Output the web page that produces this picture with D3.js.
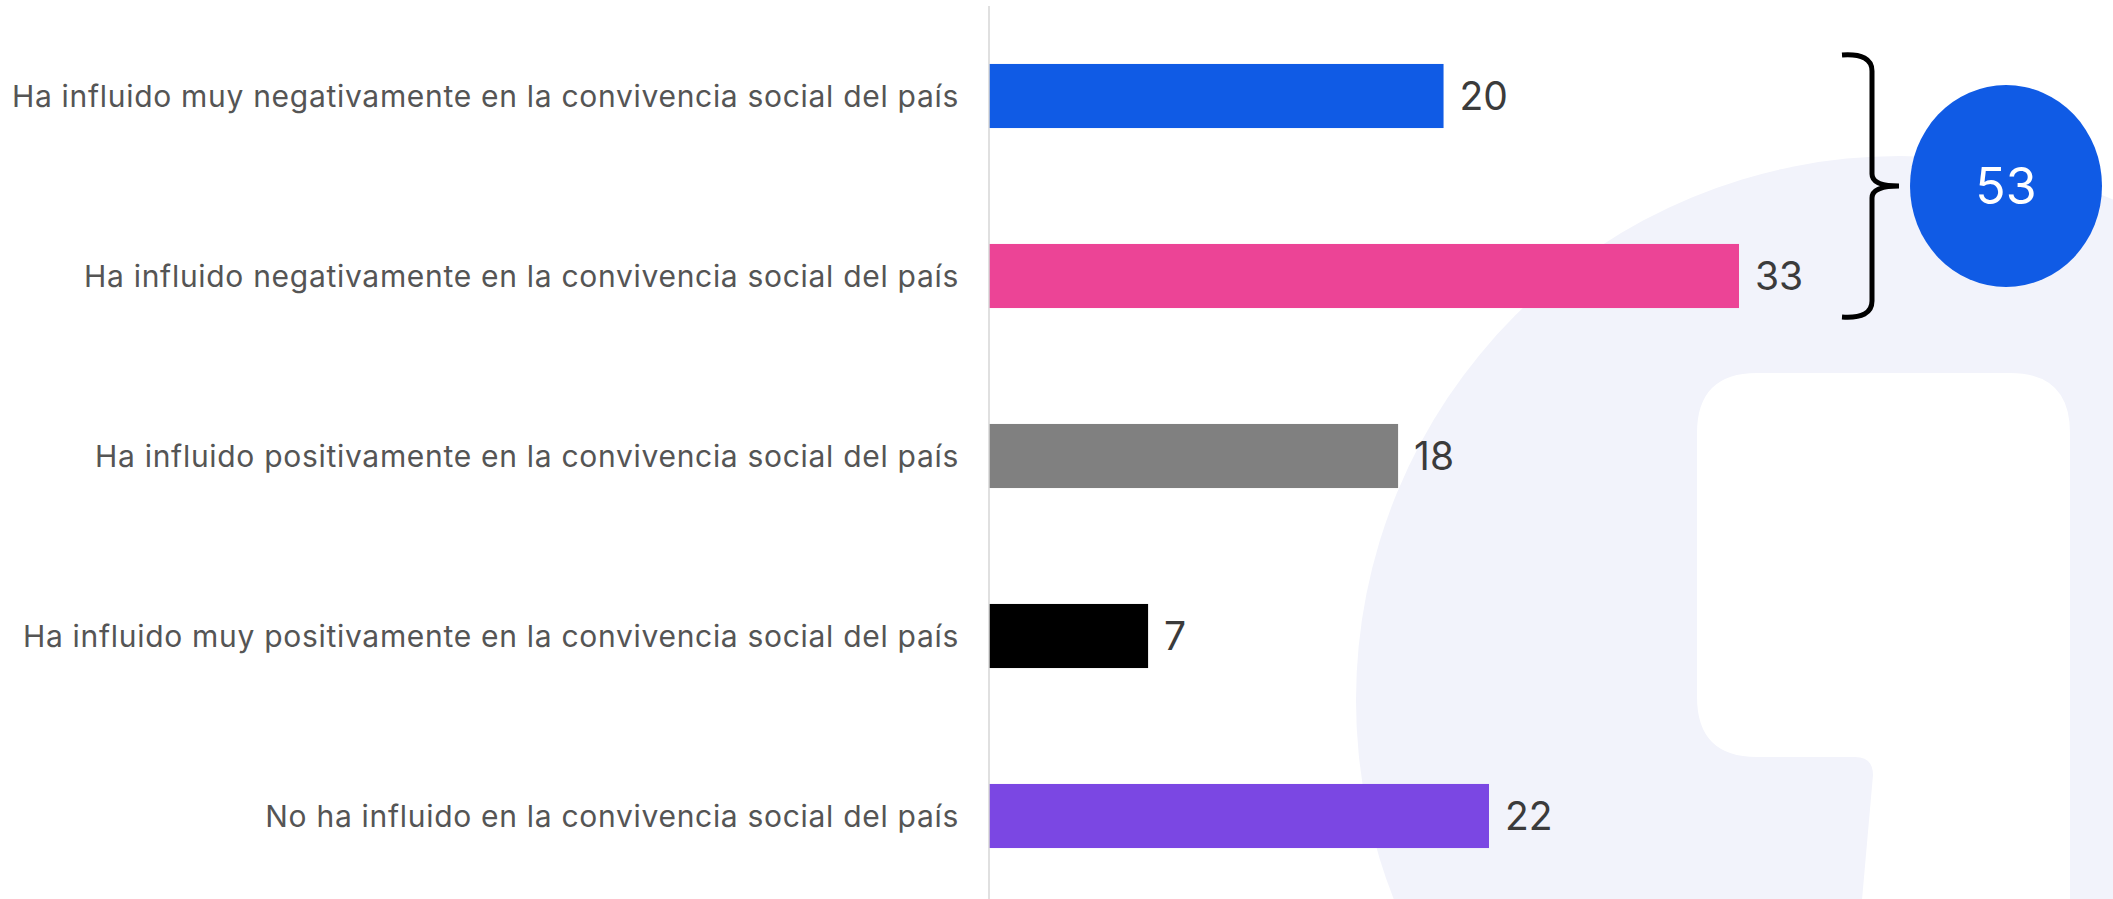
<!DOCTYPE html>
<html>
<head>
<meta charset="utf-8">
<script src="https://cdn.jsdelivr.net/npm/d3@7"></script>
<style>
  body { margin: 0; background: #fff; }
  svg { display: block; }
</style>
</head>
<body>
<div id="chart"></div>
<script>
// Data
const categories = [
    "Ha influido muy negativamente en la convivencia social del país",
    "Ha influido negativamente en la convivencia social del país",
    "Ha influido positivamente en la convivencia social del país",
    "Ha influido muy positivamente en la convivencia social del país",
    "No ha influido en la convivencia social del país"
];
const values = [20, 33, 18, 7, 22];
const barColors = ["#105be5", "#ec4496", "#808080", "#000000", "#7b47e3"];
const groupTotal = 53; // sum of the first two categories

const width = 2113, height = 899;
const font = "Inter, 'Noto Sans', sans-serif";

const svg = d3.select("#chart")
    .append("svg")
    .attr("width", width)
    .attr("height", height);

// Watermark in the background
const wm = svg.append("g");
wm.append("circle")
    .attr("cx", 1900)
    .attr("cy", 700)
    .attr("r", 544)
    .attr("fill", "#f2f3fb");
wm.append("path")
    .attr("d", "M1757,373 H2010 Q2070,373 2070,433 V900 H1862 L1873,775 Q1873,757 1855,757 H1757 Q1697,757 1697,697 V433 Q1697,373 1757,373 Z")
    .attr("fill", "#ffffff");

const x = d3.scaleLinear()
    .domain([0, 33])
    .range([989, 1739]);

const y = d3.scaleBand()
    .domain(categories)
    .range([6, 906])
    .paddingInner(0.644)
    .paddingOuter(0.322);

// Bars
svg.selectAll(".bar")
    .data(categories)
    .enter().append("rect")
    .attr("class", "bar")
    .attr("x", x(0))
    .attr("y", d => y(d))
    .attr("width", (d, i) => x(values[i]) - x(0))
    .attr("height", y.bandwidth())
    .attr("fill", (d, i) => barColors[i]);

// Vertical baseline
svg.append("line")
    .attr("x1", x(0))
    .attr("x2", x(0))
    .attr("y1", 6)
    .attr("y2", height)
    .attr("stroke", "#d6d6d6")
    .attr("stroke-width", 1.5);

// Category labels
svg.selectAll(".cat-label")
    .data(categories)
    .enter().append("text")
    .attr("class", "cat-label")
    .attr("x", x(0) - 30)
    .attr("y", d => y(d) + y.bandwidth() / 2)
    .attr("dy", "0.36em")
    .attr("text-anchor", "end")
    .attr("font-family", font)
    .attr("font-size", 30)
    .attr("letter-spacing", 0.7)
    .attr("fill", "#555555")
    .text(d => d);

// Value labels
svg.selectAll(".val-label")
    .data(categories)
    .enter().append("text")
    .attr("class", "val-label")
    .attr("x", (d, i) => x(values[i]) + 16)
    .attr("y", d => y(d) + y.bandwidth() / 2)
    .attr("dy", "0.36em")
    .attr("font-family", font)
    .attr("font-size", 39)
    .attr("fill", "#3b3b3b")
    .text((d, i) => values[i]);

// Brace grouping the two negative answers
const braceTop = y(categories[0]) - 9;
const braceBottom = y(categories[1]) + y.bandwidth() + 9;
const braceMid = (braceTop + braceBottom) / 2;
const bx = 1872;
svg.append("path")
    .attr("d", `M1842,${braceTop} Q${bx},${braceTop - 2} ${bx},${braceTop + 16} V${braceMid - 12} ` +
        `Q${bx},${braceMid} ${bx + 27},${braceMid} Q${bx},${braceMid} ${bx},${braceMid + 12} ` +
        `V${braceBottom - 16} Q${bx},${braceBottom + 2} 1842,${braceBottom}`)
    .attr("fill", "none")
    .attr("stroke", "#000")
    .attr("stroke-width", 5);

// Total bubble
const cy = braceMid;
svg.append("ellipse")
    .attr("cx", 2006)
    .attr("cy", cy)
    .attr("rx", 96)
    .attr("ry", 101)
    .attr("fill", barColors[0]);

svg.append("text")
    .attr("x", 2006)
    .attr("y", cy)
    .attr("dy", "0.36em")
    .attr("text-anchor", "middle")
    .attr("font-family", font)
    .attr("font-size", 50)
    .attr("fill", "#ffffff")
    .text(groupTotal);
</script>
</body>
</html>
